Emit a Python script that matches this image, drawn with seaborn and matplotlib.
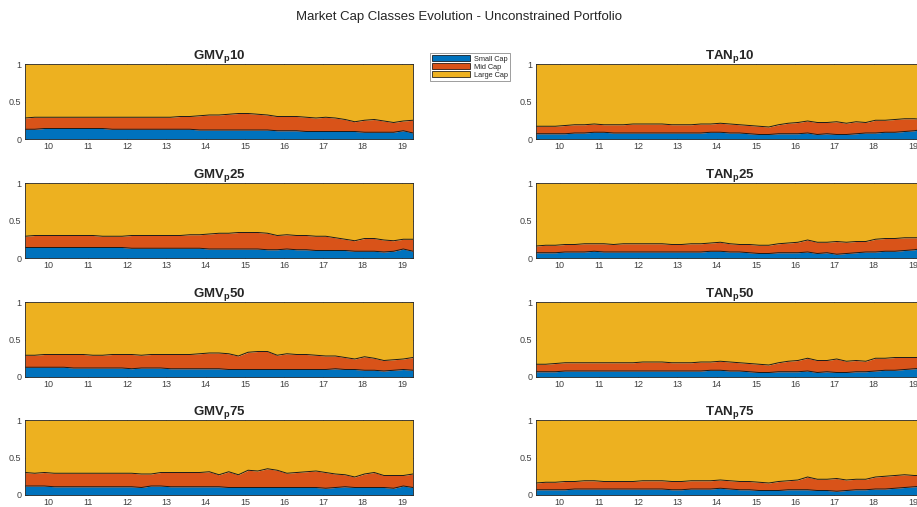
import numpy as np
import pandas as pd
import matplotlib
matplotlib.use("Agg")
import matplotlib.pyplot as plt
from matplotlib.patches import Patch
import seaborn as sns

sns.set_style("white")
plt.rcParams['font.family'] = ['Liberation Sans', 'DejaVu Sans']
plt.rcParams['mathtext.fontset'] = 'custom'
plt.rcParams['mathtext.rm'] = 'Liberation Sans'
plt.rcParams['mathtext.bf'] = 'Liberation Sans:bold'

# time axis (years, 2-digit), 41 sample dates
years = np.linspace(9.40, 19.28, 41)

classes = ["Small Cap", "Mid Cap", "Large Cap"]
colors = ["#0072BD", "#D95319", "#EDB120"]
tick_years = [10, 11, 12, 13, 14, 15, 16, 17, 18, 19]

gmv10_small = [0.13,0.13,0.14,0.14,0.14,0.14,0.14,0.14,0.14,0.13,0.13,0.13,0.13,0.13,0.13,0.13,0.13,0.13,0.12,0.12,0.12,0.12,0.12,0.12,0.12,0.12,0.11,0.11,0.11,0.10,0.10,0.10,0.10,0.10,0.10,0.09,0.09,0.09,0.09,0.11,0.08]
gmv10_mid = [0.15,0.16,0.15,0.15,0.15,0.15,0.15,0.15,0.15,0.16,0.16,0.16,0.16,0.16,0.16,0.16,0.17,0.17,0.19,0.20,0.20,0.21,0.22,0.22,0.21,0.20,0.19,0.19,0.19,0.19,0.18,0.19,0.18,0.16,0.13,0.16,0.17,0.15,0.13,0.13,0.17]

gmv25_small = [0.14,0.14,0.14,0.14,0.14,0.14,0.14,0.14,0.14,0.14,0.14,0.13,0.13,0.13,0.13,0.13,0.13,0.13,0.13,0.12,0.12,0.12,0.12,0.12,0.12,0.11,0.11,0.12,0.11,0.11,0.10,0.10,0.10,0.10,0.09,0.09,0.09,0.08,0.09,0.12,0.09]
gmv25_mid = [0.15,0.16,0.16,0.16,0.16,0.16,0.16,0.16,0.15,0.15,0.15,0.17,0.17,0.17,0.17,0.17,0.17,0.18,0.18,0.20,0.21,0.21,0.22,0.22,0.22,0.22,0.19,0.19,0.19,0.19,0.19,0.19,0.17,0.15,0.14,0.17,0.17,0.16,0.14,0.13,0.16]

gmv50_small = [0.13,0.13,0.13,0.13,0.13,0.12,0.12,0.12,0.12,0.12,0.12,0.11,0.12,0.12,0.12,0.11,0.11,0.11,0.11,0.11,0.11,0.10,0.10,0.10,0.10,0.10,0.10,0.10,0.10,0.10,0.10,0.10,0.11,0.10,0.10,0.09,0.09,0.08,0.09,0.10,0.09]
gmv50_mid = [0.16,0.16,0.17,0.17,0.17,0.18,0.18,0.17,0.17,0.18,0.18,0.19,0.17,0.18,0.18,0.19,0.19,0.19,0.20,0.21,0.21,0.21,0.18,0.23,0.24,0.24,0.19,0.21,0.20,0.20,0.19,0.18,0.17,0.16,0.14,0.18,0.16,0.14,0.14,0.14,0.17]

gmv75_small = [0.12,0.12,0.12,0.11,0.11,0.11,0.11,0.11,0.11,0.11,0.11,0.11,0.10,0.12,0.12,0.11,0.11,0.11,0.11,0.11,0.11,0.10,0.10,0.10,0.10,0.10,0.10,0.10,0.10,0.10,0.10,0.09,0.10,0.11,0.10,0.10,0.10,0.10,0.09,0.12,0.10]
gmv75_mid = [0.18,0.17,0.18,0.18,0.18,0.18,0.18,0.18,0.18,0.18,0.18,0.18,0.18,0.16,0.18,0.19,0.19,0.19,0.19,0.20,0.16,0.21,0.17,0.23,0.22,0.25,0.23,0.19,0.20,0.21,0.22,0.21,0.18,0.16,0.14,0.18,0.20,0.16,0.17,0.14,0.18]

tan10_small = [0.07,0.07,0.07,0.07,0.08,0.08,0.09,0.09,0.08,0.08,0.08,0.08,0.08,0.08,0.08,0.08,0.08,0.08,0.09,0.09,0.08,0.08,0.07,0.06,0.06,0.07,0.07,0.07,0.08,0.06,0.07,0.06,0.06,0.07,0.08,0.08,0.09,0.09,0.10,0.11,0.13]
tan10_mid = [0.10,0.10,0.10,0.11,0.11,0.11,0.11,0.10,0.11,0.11,0.12,0.12,0.12,0.12,0.11,0.11,0.11,0.12,0.11,0.12,0.12,0.11,0.11,0.11,0.10,0.12,0.14,0.15,0.16,0.16,0.15,0.17,0.15,0.16,0.14,0.17,0.16,0.17,0.17,0.16,0.13]

tan25_small = [0.07,0.07,0.07,0.08,0.08,0.08,0.09,0.08,0.08,0.08,0.08,0.08,0.08,0.08,0.08,0.08,0.08,0.08,0.09,0.09,0.08,0.08,0.07,0.06,0.06,0.07,0.07,0.07,0.08,0.06,0.07,0.05,0.06,0.07,0.08,0.08,0.09,0.09,0.10,0.11,0.13]
tan25_mid = [0.09,0.10,0.10,0.10,0.10,0.11,0.10,0.11,0.10,0.11,0.11,0.11,0.11,0.11,0.10,0.10,0.11,0.11,0.11,0.12,0.11,0.10,0.11,0.11,0.11,0.12,0.13,0.14,0.16,0.15,0.14,0.17,0.15,0.15,0.14,0.17,0.17,0.17,0.17,0.16,0.14]

tan50_small = [0.07,0.07,0.07,0.08,0.08,0.08,0.08,0.08,0.08,0.08,0.08,0.08,0.08,0.08,0.08,0.08,0.08,0.08,0.09,0.09,0.08,0.08,0.07,0.06,0.06,0.07,0.07,0.07,0.08,0.06,0.07,0.06,0.06,0.07,0.07,0.08,0.09,0.09,0.10,0.11,0.12]
tan50_mid = [0.10,0.10,0.11,0.11,0.11,0.11,0.11,0.11,0.11,0.11,0.11,0.12,0.12,0.12,0.11,0.11,0.11,0.12,0.11,0.12,0.12,0.11,0.11,0.11,0.10,0.12,0.14,0.15,0.17,0.16,0.15,0.18,0.15,0.15,0.14,0.17,0.16,0.17,0.16,0.15,0.14]

tan75_small = [0.07,0.07,0.07,0.07,0.08,0.08,0.08,0.08,0.08,0.08,0.08,0.08,0.08,0.08,0.07,0.07,0.08,0.08,0.08,0.09,0.08,0.07,0.07,0.06,0.06,0.06,0.07,0.07,0.07,0.06,0.06,0.05,0.06,0.07,0.07,0.08,0.08,0.09,0.10,0.11,0.12]
tan75_mid = [0.09,0.10,0.10,0.11,0.10,0.11,0.11,0.10,0.10,0.10,0.10,0.11,0.11,0.11,0.11,0.11,0.11,0.11,0.11,0.11,0.11,0.11,0.11,0.11,0.10,0.12,0.12,0.13,0.17,0.15,0.15,0.17,0.14,0.14,0.14,0.16,0.17,0.17,0.17,0.15,0.14]

panels = [
    ("GMV", "10", gmv10_small, gmv10_mid), ("TAN", "10", tan10_small, tan10_mid),
    ("GMV", "25", gmv25_small, gmv25_mid), ("TAN", "25", tan25_small, tan25_mid),
    ("GMV", "50", gmv50_small, gmv50_mid), ("TAN", "50", tan50_small, tan50_mid),
    ("GMV", "75", gmv75_small, gmv75_mid), ("TAN", "75", tan75_small, tan75_mid),
]

W, H = 917, 507
fig = plt.figure(figsize=(W / 100, H / 100), dpi=100)

col_left = [25, 536]
ax_w = 388
row_top = [64, 183, 302, 420]
ax_h = 75

for i, (name, pct, small, mid) in enumerate(panels):
    r, c = divmod(i, 2)
    left = col_left[c] / W
    bottom = 1 - (row_top[r] + ax_h) / H
    ax = fig.add_axes([left, bottom, ax_w / W, ax_h / H])
    small = np.array(small)
    mid = np.array(mid)
    large = 1.0 - small - mid  # large cap share is the remainder (weights sum to 1)
    df = pd.DataFrame({"year": years, "Small Cap": small, "Mid Cap": mid, "Large Cap": large})
    b0 = np.zeros(len(df))
    b1 = df["Small Cap"].values
    b2 = b1 + df["Mid Cap"].values
    b3 = b2 + df["Large Cap"].values
    ax.fill_between(df["year"], b0, b1, color=colors[0], lw=0)
    ax.fill_between(df["year"], b1, b2, color=colors[1], lw=0)
    ax.fill_between(df["year"], b2, b3, color=colors[2], lw=0)
    edges = pd.DataFrame({"year": np.concatenate([df["year"], df["year"]]),
                          "y": np.concatenate([b1, b2]),
                          "k": ["a"] * len(df) + ["b"] * len(df)})
    sns.lineplot(data=edges, x="year", y="y", units="k", estimator=None,
                 color="#1a1a1a", lw=0.7, ax=ax, legend=False)
    ax.set_xlim(9.40, 19.28)
    ax.set_ylim(0, 1)
    ax.set_xticks(tick_years)
    ax.set_xticklabels([str(t) for t in tick_years])
    ax.set_yticks([0, 0.5, 1])
    ax.set_yticklabels(["0", "0.5", "1"])
    ax.set_xlabel("")
    ax.set_ylabel("")
    ax.tick_params(direction="in", length=2.5, width=0.5, colors="#262626",
                   labelsize=6.5, labelcolor="#404040", top=True, right=True,
                   bottom=True, left=True, pad=2.5)
    for s in ax.spines.values():
        s.set_linewidth(0.6)
        s.set_color("#262626")
        s.set_zorder(5)
    ax.set_title(r"$\mathbf{%s_p}$" % name + r"$\mathbf{%s}$" % pct,
                 fontsize=9.5, fontweight="bold", pad=4)

fig.text(0.5, 1 - 17 / H, "Market Cap Classes Evolution - Unconstrained Portfolio",
         ha="center", va="center", fontsize=9.5, color="#262626")

handles = [Patch(facecolor=colors[k], edgecolor="black", lw=0.5) for k in range(3)]
leg = fig.legend(handles, classes, loc="upper left",
                 bbox_to_anchor=(430 / W, 1 - 53 / H), fontsize=5.3,
                 frameon=True, fancybox=False, handlelength=5.2, handleheight=0.9,
                 handletextpad=0.5, borderpad=0.3, labelspacing=0.05,
                 borderaxespad=0)
leg.get_frame().set_edgecolor("#555555")
leg.get_frame().set_linewidth(0.5)

fig.savefig("out.png", dpi=100)
